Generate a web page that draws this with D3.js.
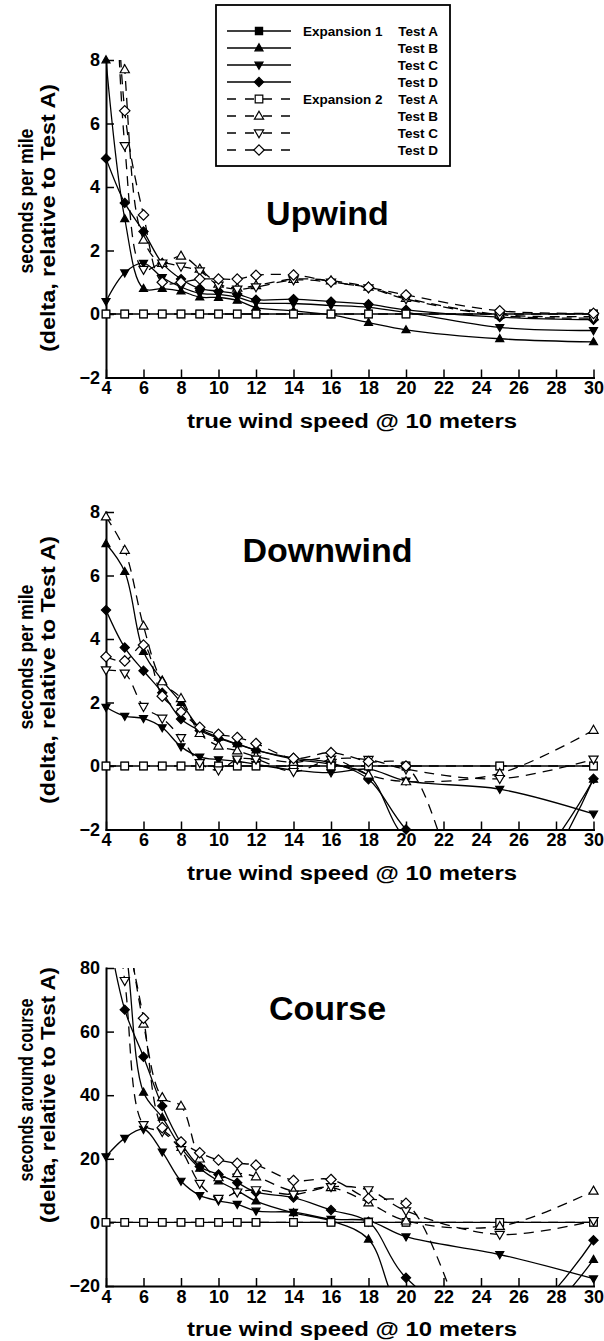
<!DOCTYPE html>
<html><head><meta charset="utf-8">
<script src="https://cdn.jsdelivr.net/npm/d3@7"></script>
<style>
body{margin:0;background:#fff}
svg{display:block}
text{font-family:"Liberation Sans",Arial,Helvetica,sans-serif;font-weight:bold;fill:#000}
</style>
</head><body>
<svg id="c" width="604" height="1341"></svg>
<script>
// ---------- data ----------
const windSpeeds = [4,5,6,7,8,9,10,11,12,14,16,18,20,25,30];
const xTickValues = [4,6,8,10,12,14,16,18,20,22,24,26,28,30];
const legendExpansions = ["Expansion 1","Expansion 2"];
const legendTests = ["Test A","Test B","Test C","Test D"];

// Upwind (seconds per mile)
const upE1A = [0,0,0,0,0,0,0,0,0,0,0,0,0,0,0];
const upE1B = [8.0,3.0,0.8,0.8,0.72,0.53,0.52,0.43,0.2,0.1,-0.03,-0.27,-0.5,-0.78,-0.88];
const upE1C = [0.4,1.3,1.6,1.15,0.85,0.65,0.62,0.53,0.36,0.33,0.27,0.21,0.05,-0.42,-0.52];
const upE1D = [4.9,3.5,2.6,1.6,1.1,0.8,0.72,0.63,0.45,0.47,0.39,0.31,0.13,-0.1,-0.18];
const upE2A = [0,0,0,0,0,0,0,0,0,0,0,0,0,0,0];
const upE2B = [25,7.7,2.33,1.6,1.83,1.42,0.95,0.82,0.9,1.1,1.05,0.85,0.5,-0.02,-0.08];
const upE2C = [22,5.3,1.4,1.6,1.5,1.35,0.9,0.78,0.85,1.07,1.0,0.82,0.47,-0.05,-0.13];
const upE2D = [22,6.4,3.12,1.0,1.0,1.1,1.1,1.1,1.22,1.23,1.02,0.84,0.6,0.1,0.02];

// Downwind (seconds per mile)
const dnE1A = [0,0,0,0,0,0,0,0,0,0,0,0,0,0,0];
const dnE1B = [7.0,6.12,3.6,2.7,2.0,1.2,0.9,0.7,0.5,0.22,0.05,-0.3,-2.3,-4.0,-0.42];
const dnE1C = [1.85,1.57,1.5,1.21,0.61,0.29,0.2,0.15,0.05,-0.13,-0.21,-0.1,-0.47,-0.73,-1.51];
const dnE1D = [4.91,3.73,3.0,2.31,1.48,1.12,0.87,0.69,0.5,0.25,0.1,-0.42,-2.0,-4.8,-0.4];
const dnE2A = [0,0,0,0,0,0,0,0,0,0,0,0,0,0,0];
const dnE2B = [7.85,6.8,4.41,2.66,2.13,1.03,0.63,0.48,0.3,0.12,0.25,-0.28,-0.49,-0.23,1.13];
const dnE2C = [3.02,2.92,1.87,1.5,0.89,0.1,-0.13,0.21,0.21,-0.18,0.21,0.2,-0.1,-0.4,0.21];
const dnE2D = [3.44,3.31,3.81,2.2,1.71,1.22,1.0,0.9,0.71,0.24,0.42,0.14,0.0,-7,-9];

// Course (seconds around course)
const coE1A = [0,0,0,0,0,0,0,0,0,0,0,0,0,0,0];
const coE1B = [110,88,40.9,33,23.5,17,13,10,6.7,3,0.5,-5.3,-30,-40,-11.7];
const coE1C = [20.7,26.5,29.3,22.2,13,8.5,6.8,5.7,3.6,3.2,1.0,0.5,-4.5,-10.1,-17.7];
const coE1D = [95,66.9,52.1,36.6,25,17.6,15.1,12.5,9.5,7.8,3.9,0.2,-17.4,-35,-5.6];
const coE2A = [0,0,0,0,0,0,0,0,0,0,0,0,0,0,0];
const coE2B = [150,100,62.4,39.3,36.6,20,14.1,15.4,14.4,9.9,11,6.2,0.5,-1.2,9.9];
const coE2C = [120,76,30.7,28.5,22.8,12.2,7.5,9.5,10.2,8.8,11.2,10.2,3.6,-3.8,0.5];
const coE2D = [140,95,64.2,29.8,25.3,21.9,19.6,18.6,18,13.2,13.5,7.5,6,-50,-60];

const upTicks = [-2,0,2,4,6,8];
const dnTicks = [-2,0,2,4,6,8];
const coTicks = [-20,0,20,40,60,80];

// ---------- styles ----------
const seriesStyles = [
  {shape:"square",  filled:true,  dashed:false},
  {shape:"up",      filled:true,  dashed:false},
  {shape:"down",    filled:true,  dashed:false},
  {shape:"diamond", filled:true,  dashed:false},
  {shape:"square",  filled:false, dashed:true},
  {shape:"up",      filled:false, dashed:true},
  {shape:"down",    filled:false, dashed:true},
  {shape:"diamond", filled:false, dashed:true}
];

function markerPath(shape, filled){
  const p = d3.path();
  if(shape==="square"){
    const h = filled?3.6:3.8;
    p.rect(-h,-h,2*h,2*h);
  } else if(shape==="up"){
    const w = filled?4:4.6, ht = filled?7:8;
    p.moveTo(0,-ht*0.6); p.lineTo(w,ht*0.4); p.lineTo(-w,ht*0.4); p.closePath();
  } else if(shape==="down"){
    const w = filled?4:4.6, ht = filled?7:8;
    p.moveTo(0,ht*0.6); p.lineTo(w,-ht*0.4); p.lineTo(-w,-ht*0.4); p.closePath();
  } else {
    const r = filled?4.6:5.2;
    p.moveTo(0,-r); p.lineTo(r,0); p.lineTo(0,r); p.lineTo(-r,0); p.closePath();
  }
  return p.toString();
}

const svg = d3.select("#c");
const x = d3.scaleLinear().domain([4,30]).range([106,593.5]);

const panels = [
  {title:"Upwind", titleY:225, domain:[-2,8], range:[377.5,60], ticks:upTicks,
   label1:"seconds per mile", l1c:201, l1len:145, l2c:218, l2len:268,
   series:[upE1A,upE1B,upE1C,upE1D,upE2A,upE2B,upE2C,upE2D]},
  {title:"Downwind", titleY:562, domain:[-2,8], range:[829.5,512], ticks:dnTicks,
   label1:"seconds per mile", l1c:657, l1len:145, l2c:670, l2len:268,
   series:[dnE1A,dnE1B,dnE1C,dnE1D,dnE2A,dnE2B,dnE2C,dnE2D]},
  {title:"Course", titleY:1020, domain:[-20,80], range:[1286,968], ticks:coTicks,
   label1:"seconds around course", l1c:1090, l1len:183, l2c:1095, l2len:256,
   series:[coE1A,coE1B,coE1C,coE1D,coE2A,coE2B,coE2C,coE2D]}
];

panels.forEach((P,pi)=>{
  const y = d3.scaleLinear().domain(P.domain).range(P.range);
  const g = svg.append("g");
  const clipId = "clip"+pi;
  svg.append("clipPath").attr("id",clipId).append("rect")
    .attr("x",x.range()[0]).attr("y",P.range[1])
    .attr("width",x.range()[1]-x.range()[0]).attr("height",P.range[0]-P.range[1]);

  // title
  g.append("text").attr("x",327.5).attr("y",P.titleY).attr("text-anchor","middle")
    .style("font-size","34px").text(P.title);

  // lines
  const line = d3.line().x(d=>x(d[0])).y(d=>y(d[1])).curve(d3.curveCatmullRom.alpha(0.5));
  const lg = g.append("g").attr("clip-path","url(#"+clipId+")");
  P.series.forEach((vals,si)=>{
    const st = seriesStyles[si];
    lg.append("path").datum(windSpeeds.map((w,i)=>[w,vals[i]]))
      .attr("d",line).attr("fill","none").attr("stroke","#000")
      .attr("stroke-width",1.3)
      .attr("stroke-dasharray",st.dashed?"10,7":null);
  });

  // axes
  const yAxis = d3.axisLeft(y).tickValues(P.ticks).tickSize(-8).tickSizeOuter(0).tickPadding(6);
  const xAxis = d3.axisBottom(x).tickValues(xTickValues).tickSize(-8).tickSizeOuter(0).tickPadding(4);
  const ya = g.append("g").attr("transform",`translate(${x.range()[0]},0)`).call(yAxis);
  const xa = g.append("g").attr("transform",`translate(0,${P.range[0]})`).call(xAxis);
  [ya,xa].forEach(a=>{
    a.select(".domain").attr("stroke","#000").attr("stroke-width",2).attr("stroke-linecap","square");
    a.selectAll(".tick line").attr("stroke","#000").attr("stroke-width",1.5);
    a.selectAll(".tick text").attr("font-family",null).attr("font-size",null)
      .style("font-size","18px").attr("fill","#000");
  });

  // markers
  const mg = g.append("g");
  const [lo,hi] = P.domain, tol = (hi-lo)*0.012;
  P.series.forEach((vals,si)=>{
    const st = seriesStyles[si];
    const pts = windSpeeds.map((w,i)=>[w,vals[i]]).filter(d=>d[1]>=lo-tol && d[1]<=hi+tol);
    mg.selectAll(null).data(pts).enter().append("path")
      .attr("transform",d=>`translate(${x(d[0])},${y(d[1])})`)
      .attr("d",markerPath(st.shape,st.filled))
      .attr("fill",st.filled?"#000":"#fff").attr("stroke","#000").attr("stroke-width",1.2);
  });

  // axis titles
  g.append("text").attr("x",352).attr("y",P.range[0]+50)
    .attr("text-anchor","middle").style("font-size","20px")
    .attr("textLength",330).attr("lengthAdjust","spacingAndGlyphs")
    .text("true wind speed @ 10 meters");
  g.append("text").attr("transform",`translate(33,${P.l1c}) rotate(-90)`)
    .attr("text-anchor","middle").style("font-size","21px")
    .attr("textLength",P.l1len).attr("lengthAdjust","spacingAndGlyphs").text(P.label1);
  g.append("text").attr("transform",`translate(55,${P.l2c}) rotate(-90)`)
    .attr("text-anchor","middle").style("font-size","21px")
    .attr("textLength",P.l2len).attr("lengthAdjust","spacingAndGlyphs").text("(delta, relative to Test A)");
});

// legend
const leg = svg.append("g");
leg.append("rect").attr("x",216).attr("y",5).attr("width",234).attr("height",161)
  .attr("fill","#fff").attr("stroke","#000").attr("stroke-width",1.8);
seriesStyles.forEach((st,i)=>{
  const cy = 31 + i*17;
  leg.append("line").attr("x1",227).attr("x2",291).attr("y1",cy).attr("y2",cy)
    .attr("stroke","#000").attr("stroke-width",1.3)
    .attr("stroke-dasharray",st.dashed?"9,9":null);
  leg.append("path").attr("transform",`translate(259,${cy})`)
    .attr("d",markerPath(st.shape,st.filled))
    .attr("fill",st.filled?"#000":"#fff").attr("stroke","#000").attr("stroke-width",1.2);
  if(i%4===0){
    leg.append("text").attr("x",303).attr("y",cy+4.5).style("font-size","13.5px")
      .text(legendExpansions[i/4]);
  }
  leg.append("text").attr("x",438).attr("y",cy+4.5).attr("text-anchor","end")
    .style("font-size","13.5px").text(legendTests[i%4]);
});
</script>
</body></html>
